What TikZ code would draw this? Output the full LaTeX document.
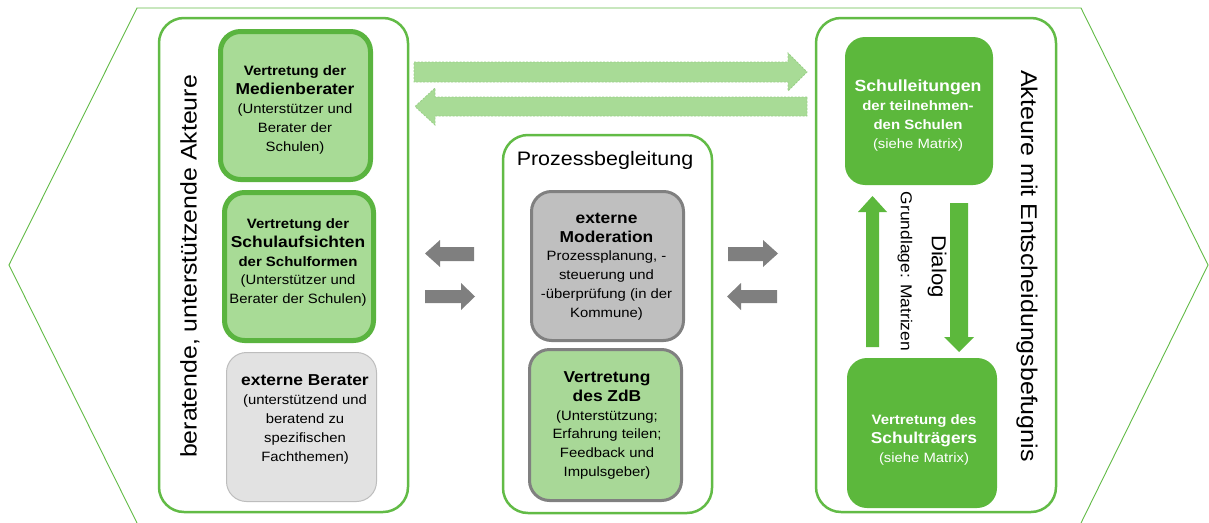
\documentclass[tikz,border=0pt]{standalone}
\usepackage{fontspec}
\setmainfont[FakeStretch=1.1]{Liberation Sans}
\definecolor{gline}{HTML}{62BB46}
\definecolor{gbord}{HTML}{5AB43F}
\definecolor{lgfill}{HTML}{A8DB96}
\definecolor{dgfill}{HTML}{5CB83C}
\definecolor{grfill}{HTML}{BFBFBF}
\definecolor{grbord}{HTML}{808080}
\definecolor{ltgray}{HTML}{E2E2E2}
\definecolor{ltgbord}{HTML}{BDBDBD}
\definecolor{zdbfill}{HTML}{A8D897}
\definecolor{dashbord}{HTML}{9ACF88}
\definecolor{arrgray}{HTML}{7F7F7F}
\newcommand\treg{\fontsize{13.5}{18.8}\selectfont\mdseries}
\newcommand\tbsm{\fontsize{13.6}{18.8}\selectfont\bfseries}
\newcommand\tbig{\fontsize{15.8}{18.8}\selectfont\bfseries}
\tikzset{
  panel/.style={draw=gline, line width=2.5pt, rounded corners=25pt, fill=white},
  greenbox/.style={draw=gbord, line width=5pt, fill=lgfill, rounded corners=20pt, inner sep=0pt},
  graybox/.style={draw=grbord, line width=3pt, fill=grfill, rounded corners=20pt, inner sep=0pt},
  zdbbox/.style={draw=grbord, line width=3pt, fill=zdbfill, rounded corners=20pt, inner sep=0pt},
  lightbox/.style={draw=ltgbord, line width=1pt, fill=ltgray, rounded corners=20pt, inner sep=0pt},
  darkbox/.style={fill=dgfill, rounded corners=20pt, inner sep=0pt},
  txt/.style={align=center, inner sep=0pt, font=\fontsize{13.5}{18.8}\selectfont},
  dasharrow/.style={fill=lgfill, draw=dashbord, dash pattern=on 2pt off 1.5pt, line width=0.8pt},
  grayarrow/.style={fill=arrgray},
  greenarrow/.style={fill=dgfill}
}
\begin{document}
\begin{tikzpicture}[x=1pt,y=-1pt]
\useasboundingbox (0,0) rectangle (1209,522);
% hexagon outline
\draw[gline, line width=0.9pt] (137,523) -- (9,265) -- (137,8) -- (1081,8) -- (1208,265) -- (1081,523);

% panels
\draw[panel] (159,18) rectangle (408,512);
\draw[panel] (503,135) rectangle (712,513);
\draw[panel] (816,18) rectangle (1056,512);

% left panel
\node[txt, rotate=90, font=\fontsize{22.6}{26}\selectfont] (lefttitle) at (190,266.5) {beratende, unterstützende Akteure};
\node[greenbox, minimum width=150pt, minimum height=148pt] (med) at (295.5,105.5) {};
\node[txt] (medT) at (295,110) {\tbsm Vertretung der\\ \tbig Medienberater\\ \treg (Unterstützer und\\ \treg Berater der\\ \treg Schulen)};
\node[greenbox, minimum width=149pt, minimum height=148pt] (aufs) at (299,266.5) {};
\node[txt] (aufsT) at (298,262.5) {\tbsm Vertretung der\\ \tbig Schulaufsichten\\ \tbsm der Schulformen\\ \treg (Unterstützer und\\ \treg Berater der Schulen)};
\node[lightbox, minimum width=150pt, minimum height=149pt] (ext) at (301.5,427) {};
\node[txt] (extT) at (305,419.5) {\tbig externe Berater\\ \treg (unterstützend und\\ \treg beratend zu\\ \treg spezifischen\\ \treg Fachthemen)};

% middle panel
\node[txt, font=\fontsize{19.5}{23}\selectfont] (midtitle) at (605,160) {Prozessbegleitung};
\node[graybox, minimum width=152pt, minimum height=149pt] (mod) at (607.5,266) {};
\node[txt] (modT) at (606.5,266.5) {\tbig externe\\ \tbig Moderation\\ \treg Prozessplanung, -\\ \treg steuerung und\\ \treg -überprüfung (in der\\ \treg Kommune)};
\node[zdbbox, minimum width=152pt, minimum height=151pt] (zdb) at (605.5,425) {};
\node[txt] (zdbT) at (607,425.5) {\tbig Vertretung\\ \tbig des ZdB\\ \treg (Unterstützung;\\ \treg Erfahrung teilen;\\ \treg Feedback und\\ \treg Impulsgeber)};

% right panel
\node[txt, rotate=-90, font=\fontsize{22.7}{26}\selectfont] (righttitle) at (1027,266) {Akteure mit Entscheidungsbefugnis};
\node[darkbox, minimum width=148pt, minimum height=148pt] (sl) at (919,111) {};
\node[txt, text=white] (slT) at (918,115.5) {\fontsize{16.1}{18.8}\selectfont\bfseries Schulleitungen\\ \tbsm der teilnehmen-\\ \tbsm den Schulen\\ \treg (siehe Matrix)};
\node[darkbox, minimum width=150pt, minimum height=150pt] (st) at (922,433) {};
\node[txt, text=white] (stT) at (924,440) {\tbsm Vertretung des\\ \tbig Schulträgers\\ \treg (siehe Matrix)};

% dialog arrows
\fill[greenarrow] (866,347) -- (866,212) -- (858,212) -- (872.5,196) -- (887,212) -- (879,212) -- (879,347) -- cycle;
\fill[greenarrow] (950,203) -- (968,203) -- (968,337) -- (974,337) -- (959,352) -- (944,337) -- (950,337) -- cycle;
\node[txt, rotate=-90, font=\fontsize{20.2}{24}\selectfont] (dialog) at (937,266.5) {Dialog};
\node[txt, rotate=-90, font=\fontsize{15.8}{19}\selectfont] (grund) at (905,271.5) {Grundlage: Matrizen};

% dashed green arrows
\path[dasharrow] (414,62) -- (788,62) -- (788,53) -- (807,72) -- (788,91) -- (788,82) -- (414,82) -- cycle;
\path[dasharrow] (807,97) -- (435,97) -- (435,88) -- (415,106.5) -- (435,125) -- (435,116) -- (807,116) -- cycle;

% gray arrows
\fill[grayarrow] (474,247) -- (440,247) -- (440,240) -- (425,253.5) -- (440,267) -- (440,261) -- (474,261) -- cycle;
\fill[grayarrow] (425,290) -- (461,290) -- (461,283) -- (475,296.5) -- (461,310) -- (461,303) -- (425,303) -- cycle;
\fill[grayarrow] (728,247) -- (763,247) -- (763,240) -- (778,253.5) -- (763,267) -- (763,261) -- (728,261) -- cycle;
\fill[grayarrow] (777,290) -- (741,290) -- (741,283) -- (727,296.5) -- (741,310) -- (741,303) -- (777,303) -- cycle;
\end{tikzpicture}
\end{document}
